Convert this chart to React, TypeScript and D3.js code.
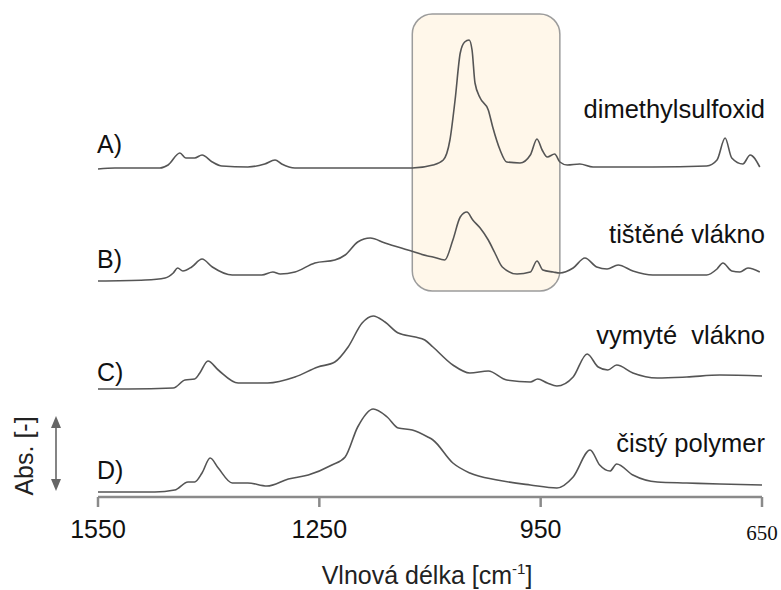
import React from "react";
import * as d3 from "d3";

// wavenumber [cm-1], absorbance (a.u., baseline-corrected)
const specA: [number, number][] = [
  [1550, -0.01], [1527, 0.0], [1466, 0.0], [1455, 0.03], [1439, 0.15], [1431, 0.1],
  [1419, 0.1], [1409, 0.13], [1395, 0.06], [1382, 0.02], [1347, 0.01], [1324, 0.04],
  [1310, 0.08], [1301, 0.04], [1283, 0.0], [1124, 0.0], [1096, 0.03], [1082, 0.08],
  [1073, 0.28], [1066, 0.68], [1059, 1.15], [1053, 1.26], [1047, 1.28], [1043, 1.18],
  [1039, 0.85], [1032, 0.7], [1021, 0.58], [1015, 0.41], [1005, 0.18], [996, 0.06],
  [978, 0.05], [964, 0.13], [955, 0.29], [948, 0.18], [941, 0.11], [931, 0.14],
  [924, 0.06], [914, 0.03], [897, 0.04], [879, 0.01], [798, 0.01], [725, 0.02],
  [711, 0.08], [700, 0.3], [691, 0.1], [676, 0.04], [666, 0.13], [653, 0.01],
];

const specB: [number, number][] = [
  [1550, -0.01], [1486, 0.0], [1459, 0.02], [1448, 0.07], [1442, 0.12], [1435, 0.09],
  [1423, 0.13], [1409, 0.21], [1395, 0.13], [1368, 0.05], [1328, 0.05], [1313, 0.08],
  [1303, 0.06], [1283, 0.08], [1256, 0.17], [1229, 0.2], [1215, 0.25], [1198, 0.38],
  [1181, 0.42], [1161, 0.37], [1130, 0.3], [1103, 0.24], [1096, 0.23], [1080, 0.2],
  [1069, 0.4], [1059, 0.63], [1050, 0.68], [1042, 0.6], [1032, 0.52], [1021, 0.4],
  [1012, 0.27], [1002, 0.13], [982, 0.06], [964, 0.08], [955, 0.19], [947, 0.1],
  [933, 0.08], [924, 0.07], [906, 0.12], [890, 0.22], [874, 0.13], [860, 0.11],
  [845, 0.15], [825, 0.09], [798, 0.05], [725, 0.05], [711, 0.11], [703, 0.17],
  [691, 0.09], [680, 0.08], [669, 0.12], [653, 0.08],
];

const specC: [number, number][] = [
  [1550, 0.0], [1509, 0.0], [1448, 0.01], [1432, 0.09], [1419, 0.1], [1412, 0.16],
  [1401, 0.28], [1387, 0.19], [1360, 0.06], [1337, 0.06], [1320, 0.06], [1283, 0.12],
  [1252, 0.22], [1229, 0.27], [1211, 0.42], [1192, 0.66], [1177, 0.73], [1161, 0.67],
  [1143, 0.56], [1120, 0.52], [1107, 0.49], [1096, 0.42], [1069, 0.24], [1046, 0.16],
  [1021, 0.18], [996, 0.09], [964, 0.07], [954, 0.1], [941, 0.06], [928, 0.03],
  [906, 0.12], [887, 0.35], [872, 0.22], [859, 0.19], [847, 0.24], [825, 0.16],
  [792, 0.11], [752, 0.12], [707, 0.14], [650, 0.13],
];

const specD: [number, number][] = [
  [1550, 0.0], [1473, 0.0], [1446, 0.02], [1428, 0.1], [1419, 0.1], [1409, 0.19],
  [1398, 0.34], [1387, 0.24], [1368, 0.09], [1347, 0.09], [1321, 0.06], [1292, 0.13],
  [1265, 0.17], [1233, 0.27], [1215, 0.35], [1198, 0.65], [1177, 0.83], [1158, 0.75],
  [1143, 0.64], [1124, 0.62], [1103, 0.55], [1096, 0.52], [1069, 0.29], [1046, 0.19],
  [1009, 0.12], [964, 0.07], [928, 0.04], [906, 0.15], [883, 0.42], [870, 0.27],
  [856, 0.21], [847, 0.28], [825, 0.17], [792, 0.1], [752, 0.09], [707, 0.08],
  [650, 0.07],
];

const letters = ["A)", "B)", "C)", "D)"];
const names = ["dimethylsulfoxid", "tištěné vlákno", "vymyté  vlákno", "čistý polymer"];
const stackOffsets = [3.24, 2.12, 1.03, 0]; // vertical shift of each spectrum
const xTicks = [1550, 1250, 950, 650];
const highlight = [1124, 924]; // shaded wavenumber window

const W = 781;
const H = 590;
const font = "'Liberation Sans', Arial, sans-serif";

export default function App() {
  const spectra = [specA, specB, specC, specD];

  const x = d3.scaleLinear().domain([1550, 650]).range([98, 762]);
  const y = d3.scaleLinear().domain([0, 4.9]).range([492, 2]);

  const axisY = 497;

  const line = d3
    .line<[number, number]>()
    .x((d) => x(d[0]))
    .y((d) => d[1])
    .curve(d3.curveMonotoneX);

  // label baselines, relative to each spectrum's zero line
  const letterDy = [-15, -12, -8, -13];
  const nameDy = [-50, -37, -45, -40];

  return (
    <svg width={W} height={H} style={{ position: "absolute", left: 0, top: 0, background: "#fff" }}>
      {/* highlight box */}
      <rect
        x={x(highlight[0])}
        y={14}
        width={x(highlight[1]) - x(highlight[0])}
        height={277}
        rx={20}
        fill="#FFF7EA"
        stroke="#9c9c9c"
        strokeWidth={1.5}
      />

      {/* spectra */}
      {spectra.map((s, i) => (
        <path
          key={i}
          d={line(s.map((d) => [d[0], y(d[1] + stackOffsets[i])]) as [number, number][]) || ""}
          fill="none"
          stroke="#555"
          strokeWidth={1.6}
          strokeLinejoin="round"
        />
      ))}

      {/* left letters */}
      {letters.map((t, i) => (
        <text key={t} x={97} y={y(stackOffsets[i]) + letterDy[i]} fontFamily={font} fontSize={25} fill="#111">
          {t}
        </text>
      ))}

      {/* right names */}
      {names.map((t, i) => (
        <text
          key={t}
          x={765}
          y={y(stackOffsets[i]) + nameDy[i]}
          fontFamily={font}
          fontSize={25.5}
          fill="#111"
          textAnchor="end"
          style={{ whiteSpace: "pre" }}
        >
          {t}
        </text>
      ))}

      {/* x axis */}
      <line x1={x(1550)} x2={x(650)} y1={axisY} y2={axisY} stroke="#8a8a8a" strokeWidth={2.5} />
      {xTicks.map((t) => (
        <g key={t} transform={`translate(${x(t)},${axisY})`}>
          <line y1={0} y2={10} stroke="#8a8a8a" strokeWidth={2.5} />
          {t === 650 ? (
            <text y={43} textAnchor="middle" fontFamily="'Liberation Serif', 'Times New Roman', serif" fontSize={21} fill="#111">
              {t}
            </text>
          ) : (
            <text y={41} textAnchor="middle" fontFamily={font} fontSize={25} fill="#111">
              {t}
            </text>
          )}
        </g>
      ))}
      <text x={427} y={584} textAnchor="middle" fontFamily={font} fontSize={25} fill="#222">
        Vlnová délka [cm
        <tspan fontSize={15} dy={-10}>-1</tspan>
        <tspan dy={10}>]</tspan>
      </text>

      {/* y label with double arrow */}
      <text transform="translate(33,456) rotate(-90)" textAnchor="middle" fontFamily={font} fontSize={25} fill="#222">
        Abs. [-]
      </text>
      <line x1={56} x2={56} y1={426} y2={481} stroke="#666" strokeWidth={1.6} />
      <path d="M56,416 L51,428 L61,428 Z" fill="#666" />
      <path d="M56,491 L51,479 L61,479 Z" fill="#666" />
    </svg>
  );
}
